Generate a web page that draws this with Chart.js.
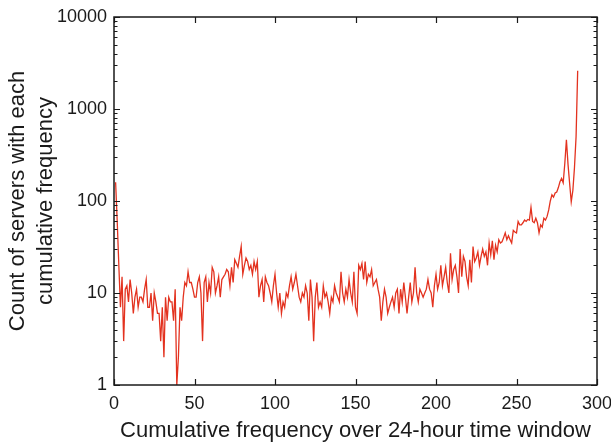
<!DOCTYPE html>
<html>
<head>
<meta charset="utf-8">
<script src="https://cdn.jsdelivr.net/npm/chart.js@4"></script>
<style>
  body { margin: 0; background: #fff; }
  #wrap { width: 611px; height: 443px; }
</style>
</head>
<body>
<div id="wrap"><canvas id="myChart"></canvas></div>
<script>
// count of servers for cumulative frequency 1..288
var counts = [
    160, 60, 20, 7, 15, 3, 11, 12, 8, 14,
    10, 6, 9, 11, 7, 9, 9, 8, 11, 14,
    7, 7, 10, 5, 10, 8, 6, 6, 3, 7,
    2, 9, 5, 9, 8, 8, 5, 11, 1, 2,
    7, 5, 9, 13, 12, 17, 13, 13, 11, 9,
    9, 13, 15, 10, 3, 13, 15, 8, 13, 10,
    19, 17, 10, 12, 15, 9, 14, 15, 16, 18,
    17, 12, 19, 13, 23, 21, 19, 25, 32, 16,
    20, 24, 22, 18, 20, 16, 22, 18, 22, 9,
    12, 14, 8, 15, 13, 12, 10, 8, 12, 16,
    10, 7, 10, 6, 8, 7, 10, 9, 12, 15,
    11, 13, 16, 12, 9, 8, 10, 9, 12, 10,
    5, 14, 9, 3, 9, 13, 7, 8, 7, 12,
    9, 10, 8, 6, 9, 8, 12, 10, 9, 8,
    17, 10, 8, 11, 9, 14, 10, 8, 17, 7,
    6, 20, 18, 21, 14, 22, 13, 16, 15, 18,
    12, 13, 14, 11, 9, 5, 8, 11, 9, 6,
    7, 8, 9, 7, 10, 11, 6, 11, 8, 13,
    9, 6, 9, 13, 8, 10, 19, 10, 8, 11,
    10, 9, 10, 11, 14, 11, 10, 7, 12, 16,
    11, 13, 20, 12, 15, 19, 13, 10, 27, 14,
    18, 20, 15, 10, 30, 15, 25, 22, 15, 12,
    23, 13, 32, 22, 24, 28, 20, 25, 30, 25,
    28, 20, 35, 26, 37, 23, 33, 28, 38, 35,
    36, 40, 45, 38, 42, 38, 35, 48, 46, 45,
    60, 55, 55, 58, 62, 60, 63, 62, 85, 60,
    58, 65, 58, 45, 55, 52, 65, 62, 68, 80,
    100, 117, 110, 122, 125, 140, 162, 176, 158, 256,
    464, 250, 155, 98, 130, 230, 500, 2600
];
var firstFreq = 1;
var xTicks = [0, 50, 100, 150, 200, 250, 300];
var yTicks = [1, 10, 100, 1000, 10000];

var xTitle = 'Cumulative frequency over 24-hour time window';
var yTitle = ['Count of servers with each', 'cumulative frequency'];

var fontFamily = "'Liberation Sans', Arial, Helvetica, sans-serif";
var inkColor = '#1a1a1a';

// box round the plot with inward ticks on all four sides
var frameTicks = {
    id: 'frameTicks',
    afterDatasetsDraw: function (chart) {
        var ctx = chart.ctx;
        var a = chart.chartArea;
        var x = chart.scales.x;
        var y = chart.scales.y;
        ctx.save();
        ctx.strokeStyle = inkColor;
        ctx.lineWidth = 1.2;
        ctx.beginPath();
        for (var i = 0; i < xTicks.length; i++) {
            var px = Math.round(x.getPixelForValue(xTicks[i])) + 0.5;
            ctx.moveTo(px, a.bottom); ctx.lineTo(px, a.bottom - 6);
            ctx.moveTo(px, a.top); ctx.lineTo(px, a.top + 6);
        }
        for (var d = 0; d < yTicks.length; d++) {
            for (var m = 1; m <= 9; m++) {
                var v = yTicks[d] * m;
                if (v > yTicks[yTicks.length - 1]) break;
                var py = Math.round(y.getPixelForValue(v)) + 0.5;
                var len = m === 1 ? 6 : 3.5;
                ctx.moveTo(a.left, py); ctx.lineTo(a.left + len, py);
                ctx.moveTo(a.right, py); ctx.lineTo(a.right - len, py);
            }
        }
        ctx.stroke();
        ctx.lineWidth = 1.5;
        ctx.strokeRect(a.left, a.top, a.right - a.left, a.bottom - a.top);
        ctx.restore();
    }
};

function createChart() {
    var points = counts.map(function (c, i) {
        return { x: firstFreq + i, y: c };
    });

    const config = {
        type: 'line',
        data: {
            datasets: [{
                data: points,
                borderColor: '#e3321f',
                borderWidth: 1.3,
                pointRadius: 0,
                tension: 0,
                fill: false
            }]
        },
        options: {
            responsive: true,
            maintainAspectRatio: false,
            animation: false,
            layout: {
                padding: { top: 17, right: 14, bottom: 0, left: 0 }
            },
            plugins: {
                legend: { display: false },
                tooltip: { enabled: false }
            },
            scales: {
                x: {
                    type: 'linear',
                    min: 0,
                    max: 300,
                    grid: { display: false, drawTicks: false },
                    border: { display: false },
                    afterBuildTicks: function (scale) {
                        scale.ticks = xTicks.map(function (v) { return { value: v }; });
                    },
                    afterFit: function (scale) {
                        scale.height = 58;
                        scale.paddingLeft = 0;
                        scale.paddingRight = 0;
                    },
                    ticks: {
                        padding: 8,
                        maxRotation: 0,
                        color: inkColor,
                        font: { family: fontFamily, size: 18 },
                        callback: function (value) { return String(value); }
                    },
                    title: {
                        display: true,
                        text: xTitle,
                        color: inkColor,
                        font: { family: fontFamily, size: 22, lineHeight: 1.1 },
                        padding: { top: 0, bottom: 0 }
                    }
                },
                y: {
                    type: 'logarithmic',
                    min: 1,
                    max: 10000,
                    grid: { display: false, drawTicks: false },
                    border: { display: false },
                    afterBuildTicks: function (scale) {
                        scale.ticks = yTicks.map(function (v) { return { value: v }; });
                    },
                    afterFit: function (scale) {
                        scale.width = 114;
                        scale.paddingTop = 0;
                        scale.paddingBottom = 0;
                    },
                    ticks: {
                        padding: 7,
                        color: inkColor,
                        font: { family: fontFamily, size: 18 },
                        callback: function (value) { return String(value); }
                    },
                    title: {
                        display: true,
                        text: yTitle,
                        color: inkColor,
                        font: { family: fontFamily, size: 22, lineHeight: 1.27 },
                        padding: { top: 4, bottom: 0 }
                    }
                }
            }
        },
        plugins: [frameTicks]
    };

    const ctx = document.getElementById('myChart');
    new Chart(ctx, config);
}

createChart();
</script>
</body>
</html>
